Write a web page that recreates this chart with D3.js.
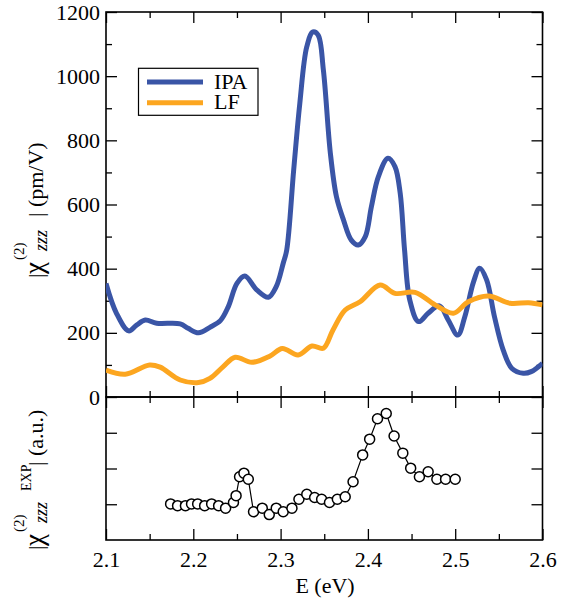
<!DOCTYPE html>
<html>
<head>
<meta charset="utf-8">
<script src="https://cdn.jsdelivr.net/npm/d3@7"></script>
<style>
  body { margin: 0; background: #fff; }
  text { font-family: "Liberation Serif", "Times New Roman", Times, "DejaVu Serif", serif; fill: #000; }
</style>
</head>
<body>
<svg id="chart" width="570" height="602"></svg>
<script>
// IPA curve (pm/V)
var energyIPA = [2.100, 2.112, 2.126, 2.135, 2.145, 2.158, 2.185, 2.194, 2.206, 2.219, 2.231, 2.240, 2.250, 2.259, 2.273, 2.286, 2.295, 2.303, 2.307, 2.315, 2.322, 2.330, 2.337, 2.343, 2.349, 2.357, 2.364, 2.372, 2.381, 2.389, 2.397, 2.404, 2.412, 2.423, 2.431, 2.437, 2.442, 2.448, 2.458, 2.469, 2.482, 2.492, 2.503, 2.511, 2.521, 2.528, 2.536, 2.545, 2.555, 2.565, 2.578, 2.587, 2.600];
var chiIPA = [354, 261, 206, 224, 240, 230, 228, 214, 200, 217, 238, 281, 354, 377, 333, 311, 344, 417, 458, 708, 915, 1092, 1138, 1128, 1019, 760, 624, 552, 489, 474, 500, 593, 687, 744, 718, 635, 458, 302, 235, 261, 284, 240, 193, 250, 359, 401, 365, 250, 146, 89, 74, 79, 105];

// LF curve (pm/V)
var energyLF = [2.100, 2.122, 2.150, 2.162, 2.185, 2.206, 2.219, 2.234, 2.248, 2.267, 2.288, 2.302, 2.320, 2.336, 2.349, 2.360, 2.374, 2.391, 2.414, 2.431, 2.454, 2.477, 2.498, 2.515, 2.538, 2.563, 2.584, 2.600];
var chiLF = [84, 71, 100, 93, 53, 45, 58, 94, 124, 108, 128, 151, 131, 159, 152, 209, 271, 297, 349, 323, 326, 287, 261, 297, 315, 292, 294, 287];

// experiment (a.u.)
var energyExp = [2.174, 2.182, 2.191, 2.198, 2.205, 2.213, 2.221, 2.229, 2.237, 2.246, 2.249, 2.253, 2.258, 2.263, 2.269, 2.279, 2.287, 2.295, 2.303, 2.313, 2.321, 2.330, 2.339, 2.347, 2.356, 2.365, 2.374, 2.383, 2.394, 2.402, 2.411, 2.421, 2.430, 2.440, 2.449, 2.459, 2.469, 2.479, 2.489, 2.500];
var chiExp = [1.01, 0.96, 0.96, 1.01, 1.01, 0.96, 1.01, 0.96, 0.89, 1.05, 1.24, 1.77, 1.87, 1.70, 0.79, 0.89, 0.71, 0.89, 0.79, 0.89, 1.14, 1.28, 1.19, 1.14, 1.05, 1.14, 1.21, 1.63, 2.38, 2.82, 3.39, 3.54, 2.91, 2.43, 2.01, 1.77, 1.91, 1.70, 1.70, 1.70];

var xTicks = [2.1, 2.2, 2.3, 2.4, 2.5, 2.6];
var xMinor = [2.15, 2.25, 2.35, 2.45, 2.55];
var yTicks = [0, 200, 400, 600, 800, 1000, 1200];
var yMinor = [100, 300, 500, 700, 900, 1100];
var yExpTicks = [1, 2, 3];

var legendNames = ["IPA", "LF"];
var colors = ["#3a55a6", "#fca620"];

var serif = "'Liberation Serif', 'Times New Roman', Times, 'DejaVu Serif', serif";
var fs = "22px";
var pLeft = 106, pRight = 542.5, pTop = 12, pMid = 397, pBottom = 540;

var svg = d3.select("#chart");

var x = d3.scaleLinear().domain([2.1, 2.6]).range([pLeft, pRight]);
var yTop = d3.scaleLinear().domain([0, 1200]).range([pMid, pTop]);
var yBot = d3.scaleLinear().domain([0, 4]).range([pBottom, pMid]);

svg.append("clipPath").attr("id", "clipTop")
  .append("rect")
  .attr("x", pLeft).attr("y", pTop)
  .attr("width", pRight - pLeft).attr("height", pMid - pTop);

function styleAxis(g) {
  g.attr("font-family", null);
  g.select(".domain").remove();
  g.selectAll("line").attr("stroke", "#000").attr("stroke-width", 1.3);
  g.selectAll("text").style("font-size", fs).attr("fill", "#000")
    .style("font-family", serif);
}

// top panel axes
svg.append("g").attr("transform", "translate(" + pLeft + ",0)")
  .call(d3.axisLeft(yTop).tickValues(yTicks).tickSize(-11).tickPadding(6).tickFormat(d3.format("d")))
  .call(styleAxis);
svg.append("g").attr("transform", "translate(" + pLeft + ",0)")
  .call(d3.axisLeft(yTop).tickValues(yMinor).tickSize(-6).tickFormat(""))
  .call(styleAxis);
svg.append("g").attr("transform", "translate(" + pRight + ",0)")
  .call(d3.axisRight(yTop).tickValues(yTicks).tickSize(-11).tickFormat(""))
  .call(styleAxis);
svg.append("g").attr("transform", "translate(" + pRight + ",0)")
  .call(d3.axisRight(yTop).tickValues(yMinor).tickSize(-6).tickFormat(""))
  .call(styleAxis);
svg.append("g").attr("transform", "translate(0," + pTop + ")")
  .call(d3.axisTop(x).tickValues(xTicks).tickSize(-11).tickFormat(""))
  .call(styleAxis);
svg.append("g").attr("transform", "translate(0," + pTop + ")")
  .call(d3.axisTop(x).tickValues(xMinor).tickSize(-6).tickFormat(""))
  .call(styleAxis);
svg.append("g").attr("transform", "translate(0," + pMid + ")")
  .call(d3.axisBottom(x).tickValues(xTicks).tickSize(-11).tickFormat(""))
  .call(styleAxis);
svg.append("g").attr("transform", "translate(0," + pMid + ")")
  .call(d3.axisBottom(x).tickValues(xMinor).tickSize(-6).tickFormat(""))
  .call(styleAxis);

// bottom panel axes
svg.append("g").attr("transform", "translate(0," + pMid + ")")
  .call(d3.axisTop(x).tickValues(xTicks).tickSize(-11).tickFormat(""))
  .call(styleAxis);
svg.append("g").attr("transform", "translate(0," + pMid + ")")
  .call(d3.axisTop(x).tickValues(xMinor).tickSize(-6).tickFormat(""))
  .call(styleAxis);
svg.append("g").attr("transform", "translate(0," + pBottom + ")")
  .call(d3.axisBottom(x).tickValues(xTicks).tickSize(-11).tickPadding(11).tickFormat(d3.format(".1f")))
  .call(styleAxis);
svg.append("g").attr("transform", "translate(0," + pBottom + ")")
  .call(d3.axisBottom(x).tickValues(xMinor).tickSize(-6).tickFormat(""))
  .call(styleAxis);
svg.append("g").attr("transform", "translate(" + pLeft + ",0)")
  .call(d3.axisLeft(yBot).tickValues(yExpTicks).tickSize(-11).tickFormat(""))
  .call(styleAxis);
svg.append("g").attr("transform", "translate(" + pRight + ",0)")
  .call(d3.axisRight(yBot).tickValues(yExpTicks).tickSize(-11).tickFormat(""))
  .call(styleAxis);

// frames
svg.append("rect").attr("x", pLeft).attr("y", pTop)
  .attr("width", pRight - pLeft).attr("height", pMid - pTop)
  .attr("fill", "none").attr("stroke", "#000").attr("stroke-width", 1.6);
svg.append("rect").attr("x", pLeft).attr("y", pMid)
  .attr("width", pRight - pLeft).attr("height", pBottom - pMid)
  .attr("fill", "none").attr("stroke", "#000").attr("stroke-width", 1.6);

// theory curves
var lineTop = d3.line()
  .x(function (d) { return x(d[0]); })
  .y(function (d) { return yTop(d[1]); })
  .curve(d3.curveCatmullRom.alpha(0.5));

var series = [
  d3.zip(energyIPA, chiIPA),
  d3.zip(energyLF, chiLF)
];

svg.append("g").attr("clip-path", "url(#clipTop)")
  .selectAll("path")
  .data(series)
  .enter()
  .append("path")
  .attr("d", lineTop)
  .attr("fill", "none")
  .attr("stroke", function (d, i) { return colors[i]; })
  .attr("stroke-width", 5)
  .attr("stroke-linejoin", "round");

// experiment
var expData = d3.zip(energyExp, chiExp);
var lineBot = d3.line()
  .x(function (d) { return x(d[0]); })
  .y(function (d) { return yBot(d[1]); });

svg.append("path")
  .datum(expData)
  .attr("d", lineBot)
  .attr("fill", "none")
  .attr("stroke", "#000")
  .attr("stroke-width", 1.2);

svg.append("g")
  .selectAll("circle")
  .data(expData)
  .enter()
  .append("circle")
  .attr("cx", function (d) { return x(d[0]); })
  .attr("cy", function (d) { return yBot(d[1]); })
  .attr("r", 5)
  .attr("fill", "#fff")
  .attr("stroke", "#000")
  .attr("stroke-width", 1.5);

// legend
var legend = svg.append("g");
legend.append("rect")
  .attr("x", 138.5).attr("y", 68.3)
  .attr("width", 119.5).attr("height", 47)
  .attr("fill", "#fff").attr("stroke", "#000").attr("stroke-width", 1.2);
legendNames.forEach(function (name, i) {
  legend.append("line")
    .attr("x1", 147).attr("x2", 203)
    .attr("y1", 82 + i * 20.7).attr("y2", 82 + i * 20.7)
    .attr("stroke", colors[i]).attr("stroke-width", 5);
  legend.append("text")
    .attr("x", 214).attr("y", 88.5 + i * 20.7)
    .style("font-size", fs)
    .text(name);
});

// x label
svg.append("text")
  .attr("x", 325).attr("y", 593)
  .attr("text-anchor", "middle")
  .style("font-size", fs)
  .text("E (eV)");

// y labels
function yLabel(baseY, unit, sup2, barAt) {
  var g = svg.append("g").attr("transform", "translate(43," + baseY + ") rotate(-90)");
  g.append("text").attr("x", 0).attr("y", 0).style("font-size", fs).text("|");
  g.append("text").attr("x", 4).attr("y", 0).style("font-size", "27px").text("\u03c7");
  g.append("text").attr("x", 18).attr("y", -19).style("font-size", "15px").text("(2)");
  g.append("text").attr("x", 27).attr("y", 4).style("font-size", "18px").style("font-style", "italic").text("zzz");
  if (sup2) {
    g.append("text").attr("x", 59).attr("y", -12).style("font-size", "14px").text(sup2);
  }
  g.append("text").attr("x", barAt).attr("y", 0).style("font-size", fs).text("| " + unit);
}
yLabel(278, "(pm/V)", null, 61);
yLabel(550, "(a.u.)", "EXP", 84);
</script>
</body>
</html>
